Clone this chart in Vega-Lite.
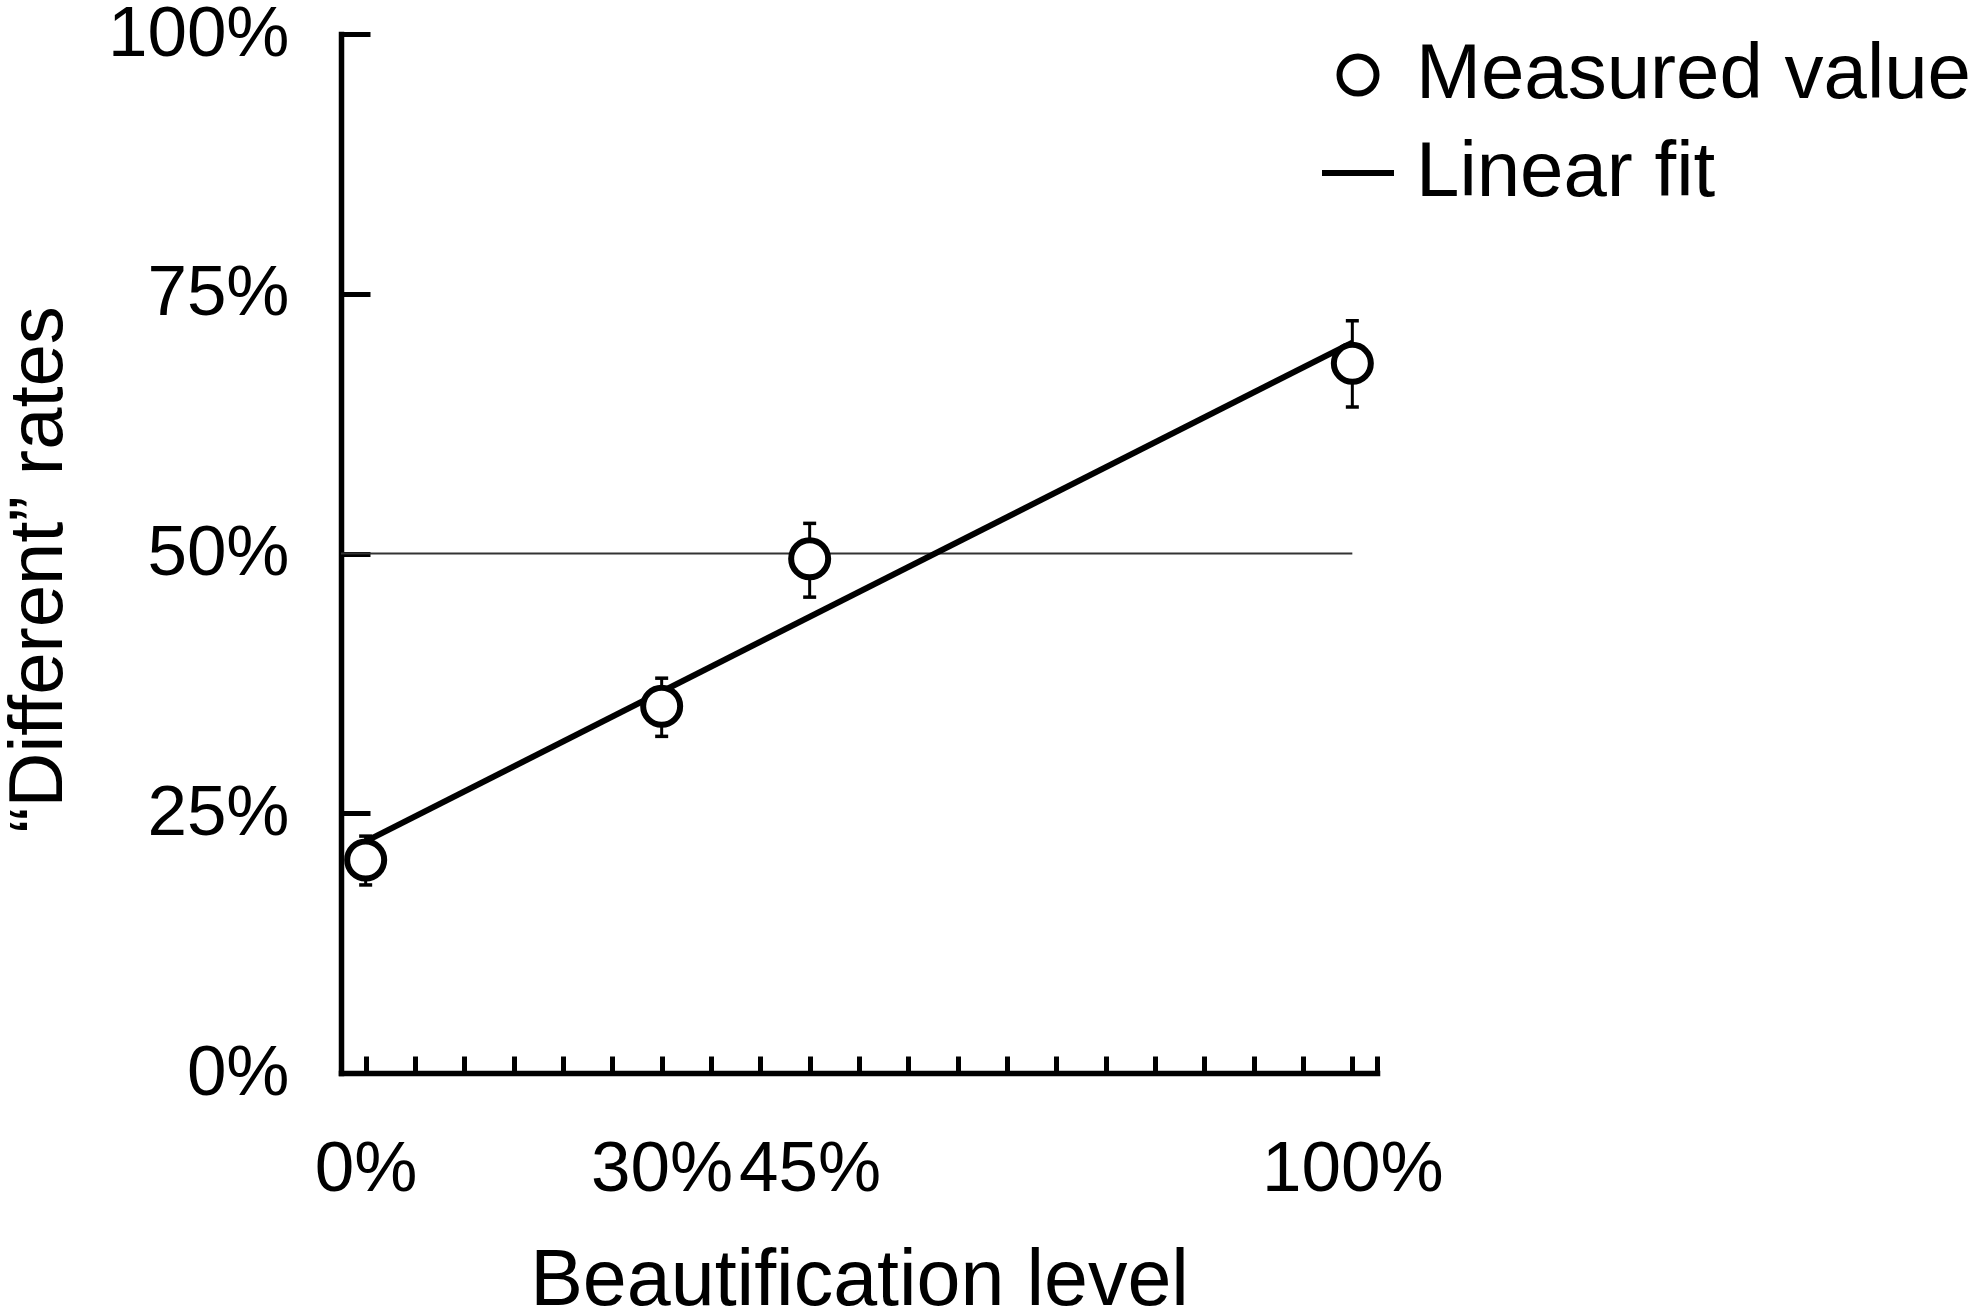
{
  "$schema": "https://vega.github.io/schema/vega-lite/v6.json",
  "width": 1036,
  "height": 1039,
  "autosize": "none",
  "padding": {"left": 341, "top": 34, "right": 606, "bottom": 243},
  "background": "white",
  "config": {
    "view": {"stroke": null},
    "font": "Liberation Sans",
    "axis": {
      "grid": false,
      "domainColor": "black",
      "domainWidth": 5.5,
      "domainCap": "square",
      "tickColor": "black",
      "tickWidth": 5,
      "labelColor": "black",
      "titleColor": "black",
      "labelFont": "Liberation Sans",
      "titleFont": "Liberation Sans",
      "titleFontWeight": "normal",
      "labelOverlap": false,
      "labelFlush": false,
      "labelLimit": 0,
      "titleLimit": 0
    }
  },
  "datasets": {
    "measured": [
      {"level": 0, "rate": 20.5, "lo": 18.1, "hi": 22.8},
      {"level": 30, "rate": 35.3, "lo": 32.4, "hi": 38.0},
      {"level": 45, "rate": 49.5, "lo": 45.8, "hi": 52.9},
      {"level": 100, "rate": 68.3, "lo": 64.1, "hi": 72.4}
    ],
    "fit": [
      {"level": 0, "rate": 22.3},
      {"level": 100, "rate": 70.3}
    ]
  },
  "layer": [
    {
      "data": {"name": "measured"},
      "mark": {"type": "rule", "stroke": "black", "strokeWidth": 3},
      "encoding": {
        "x": {
          "field": "level",
          "type": "quantitative",
          "scale": {"domain": [-2.5, 102.5], "nice": false, "zero": false},
          "axis": {
            "title": "Beautification level",
            "titleFontSize": 79,
            "titleX": 518,
            "titleY": 231,
            "titleBaseline": "alphabetic",
            "values": [0, 5, 10, 15, 20, 25, 30, 35, 40, 45, 50, 55, 60, 65, 70, 75, 80, 85, 90, 95, 100, 102.5],
            "labelExpr": "(datum.value == 0 || datum.value == 30 || datum.value == 45 || datum.value == 100) ? datum.value + '%' : ''",
            "labelFontSize": 71,
            "tickSize": -17,
            "labelPadding": 78
          }
        },
        "y": {
          "field": "lo",
          "type": "quantitative",
          "scale": {"domain": [0, 100], "nice": false, "zero": true},
          "axis": {
            "title": "“Different” rates",
            "titleFontSize": 76,
            "titleX": -280,
            "titleY": 535,
            "titleBaseline": "alphabetic",
            "titleAlign": "center",
            "values": [0, 25, 50, 75, 100],
            "labelExpr": "datum.value + '%'",
            "labelFontSize": 71,
            "tickSize": -29,
            "labelPadding": 81
          }
        },
        "y2": {"field": "hi"}
      }
    },
    {
      "data": {"name": "measured"},
      "mark": {"type": "tick", "orient": "horizontal", "size": 13, "thickness": 3.5, "color": "black", "opacity": 1},
      "encoding": {
        "x": {"field": "level", "type": "quantitative"},
        "y": {"field": "lo", "type": "quantitative"}
      }
    },
    {
      "data": {"name": "measured"},
      "mark": {"type": "tick", "orient": "horizontal", "size": 13, "thickness": 3.5, "color": "black", "opacity": 1},
      "encoding": {
        "x": {"field": "level", "type": "quantitative"},
        "y": {"field": "hi", "type": "quantitative"}
      }
    },
    {
      "data": {"values": [{}]},
      "mark": {"type": "rule", "stroke": "#333333", "strokeWidth": 1.8},
      "encoding": {
        "x": {"datum": -2.5, "type": "quantitative"},
        "x2": {"datum": 100},
        "y": {"datum": 50, "type": "quantitative"}
      }
    },
    {
      "data": {"name": "fit"},
      "mark": {"type": "line", "strokeWidth": 6, "strokeCap": "butt"},
      "encoding": {
        "x": {"field": "level", "type": "quantitative"},
        "y": {"field": "rate", "type": "quantitative"},
        "stroke": {
          "datum": "Linear fit",
          "type": "nominal",
          "scale": {"domain": ["Measured value", "Linear fit"], "range": ["black", "black"]},
          "legend": {
            "title": null,
            "orient": "none",
            "legendX": 978,
            "legendY": 2,
            "padding": 0,
            "rowPadding": 20,
            "labelFontSize": 78,
            "labelFont": "Liberation Sans",
            "labelColor": "black",
            "labelLimit": 0,
            "labelOffset": 19,
            "symbolSize": 5184,
            "symbolStrokeWidth": 6,
            "symbolFillColor": "white",
            "symbolStrokeColor": "black",
            "encode": {
              "symbols": {
                "update": {
                  "shape": {"signal": "datum.value === 'Linear fit' ? 'stroke' : 'circle'"},
                  "size": {"signal": "datum.value === 'Linear fit' ? 5184 : 1369"},
                  "fill": {"value": "white"},
                  "stroke": {"value": "black"},
                  "strokeWidth": {"value": 6},
                  "opacity": {"value": 1}
                }
              }
            }
          }
        }
      }
    },
    {
      "data": {"name": "measured"},
      "mark": {"type": "point", "shape": "circle", "filled": false, "fill": "white", "fillOpacity": 1, "opacity": 1, "size": 1369, "strokeWidth": 6},
      "encoding": {
        "x": {"field": "level", "type": "quantitative"},
        "y": {"field": "rate", "type": "quantitative"},
        "stroke": {"datum": "Measured value", "type": "nominal"}
      }
    }
  ]
}
